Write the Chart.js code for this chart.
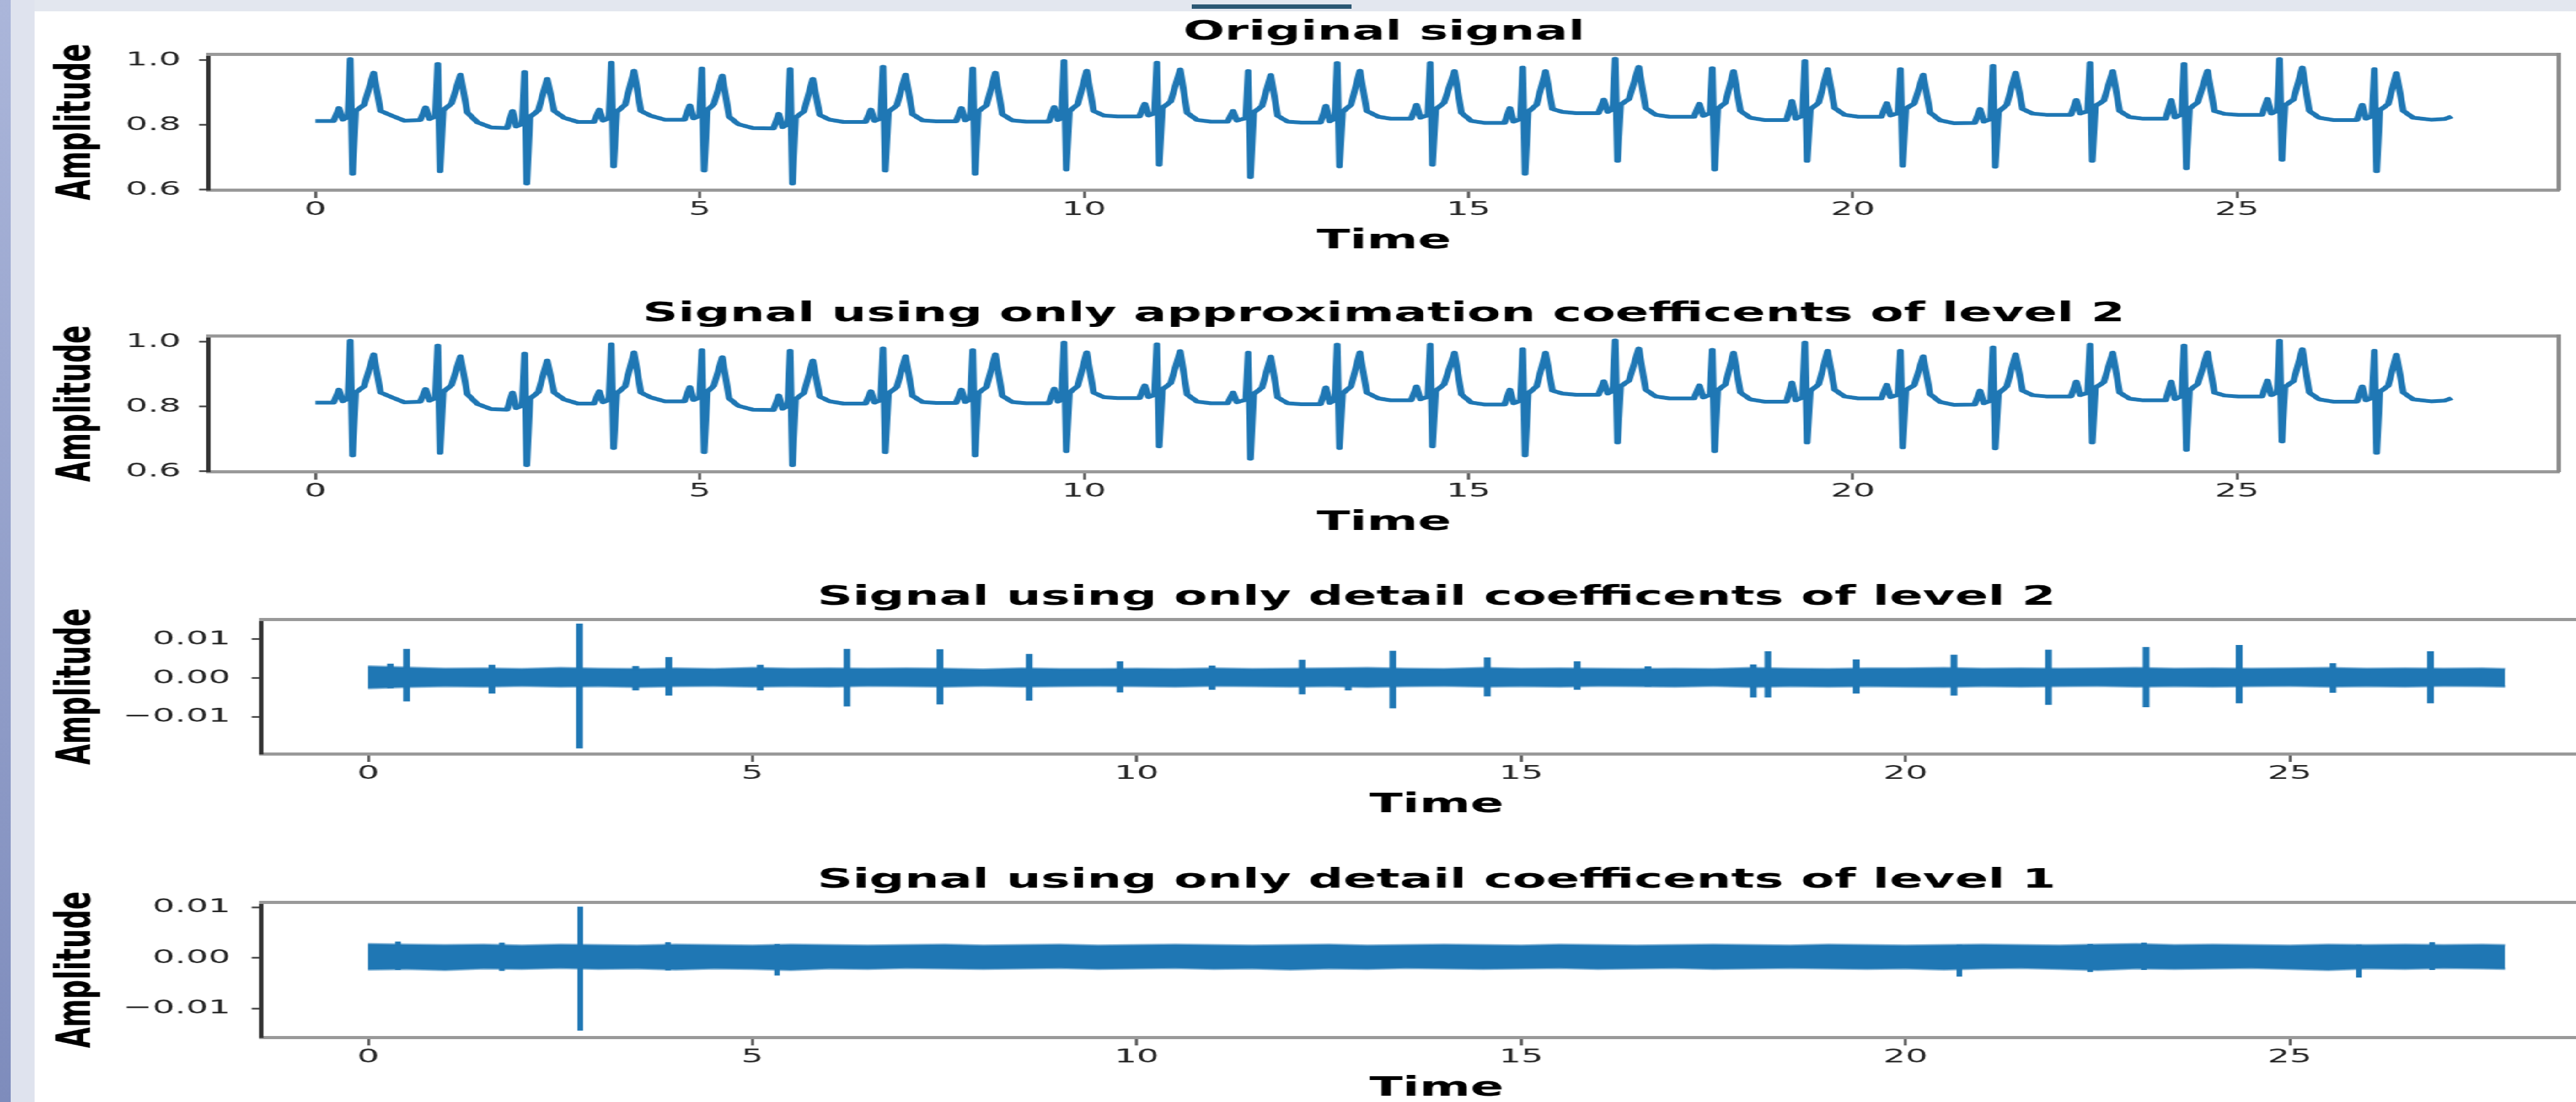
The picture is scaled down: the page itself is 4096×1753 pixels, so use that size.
<!DOCTYPE html>
<html>
<head>
<meta charset="utf-8">
<title>Wavelet decomposition of an ECG signal</title>
<script src="https://cdn.jsdelivr.net/npm/chart.js@4.4.1/dist/chart.umd.min.js"></script>
<style>
  html, body { margin: 0; padding: 0; width: 4096px; height: 1753px; overflow: hidden; background: #fff; }
  #bandTop { position: absolute; left: 0; top: 0; width: 4096px; height: 18px; background: #e3e7ef; }
  #bandLeft { position: absolute; left: 0; top: 0; width: 55px; height: 1753px; background: #dfe3ee; }
  #stripLeft { position: absolute; left: 0; top: 0; width: 17px; height: 1753px; background: linear-gradient(#abb6da, #7e8cbc); }
  #tab { position: absolute; left: 1895px; top: 7px; width: 254px; height: 7px; background: #2b5773; }
  /* the source picture is stretched sideways, so the whole stage is too */
  #stage { position: absolute; left: 0; top: 0; width: 2330px; height: 1760px; transform: scaleX(1.79); transform-origin: 0 0; }
  #stage canvas { position: absolute; left: 0; }
</style>
</head>
<body>
<div id="bandTop"></div><div id="bandLeft"></div><div id="stripLeft"></div><div id="tab"></div>
<div id="stage">
  <canvas id="original" width="2330" height="384" style="top:26px"></canvas>
  <canvas id="approx" width="2330" height="384" style="top:474px"></canvas>
  <canvas id="detail2" width="2330" height="382" style="top:925px"></canvas>
  <canvas id="detail1" width="2330" height="383" style="top:1375px"></canvas>
</div>
<script>
// ECG trace, read beat by beat off the top panel (time in s, amplitude)
const ecgTime = [
  0.000,
  0.236, 0.306, 0.356, 0.423, 0.453, 0.483, 0.523, 0.633, 0.757, 0.847, 0.977, 1.157,
  1.364, 1.434, 1.484, 1.561, 1.591, 1.621, 1.661, 1.771, 1.886, 1.976, 2.106, 2.286,
  2.493, 2.563, 2.613, 2.690, 2.720, 2.750, 2.790, 2.900, 3.015, 3.105, 3.235, 3.415,
  3.622, 3.692, 3.742, 3.819, 3.849, 3.879, 3.919, 4.029, 4.144, 4.234, 4.364, 4.544,
  4.800, 4.870, 4.920, 4.997, 5.027, 5.057, 5.097, 5.182, 5.292, 5.382, 5.502, 5.692,
  5.958, 6.028, 6.078, 6.145, 6.175, 6.205, 6.245, 6.355, 6.470, 6.560, 6.690, 6.870,
  7.156, 7.226, 7.276, 7.353, 7.383, 7.413, 7.453, 7.563, 7.677, 7.767, 7.897, 8.077,
  8.334, 8.404, 8.454, 8.521, 8.551, 8.581, 8.621, 8.731, 8.845, 8.935, 9.065, 9.245,
  9.541, 9.611, 9.661, 9.708, 9.738, 9.768, 9.808, 9.918, 10.033, 10.123, 10.253, 10.433,
  10.719, 10.789, 10.839, 10.916, 10.946, 10.976, 11.016, 11.126, 11.250, 11.340, 11.470, 11.650,
  11.867, 11.937, 11.987, 12.104, 12.134, 12.164, 12.204, 12.314, 12.428, 12.518, 12.648, 12.828,
  13.075, 13.145, 13.195, 13.262, 13.292, 13.322, 13.362, 13.472, 13.587, 13.677, 13.830, 13.990,
  14.254, 14.324, 14.374, 14.472, 14.502, 14.532, 14.572, 14.682, 14.818, 14.908, 15.038, 15.218,
  15.468, 15.538, 15.588, 15.676, 15.706, 15.736, 15.776, 15.886, 16.002, 16.092, 16.222, 16.402,
  16.691, 16.761, 16.811, 16.879, 16.909, 16.939, 16.979, 17.089, 17.215, 17.305, 17.435, 17.615,
  17.934, 18.004, 18.054, 18.142, 18.172, 18.202, 18.242, 18.342, 18.448, 18.538, 18.668, 18.848,
  19.138, 19.208, 19.258, 19.346, 19.376, 19.406, 19.446, 19.556, 19.672, 19.762, 19.892, 20.072,
  20.371, 20.441, 20.491, 20.589, 20.619, 20.649, 20.689, 20.799, 20.915, 21.005, 21.135, 21.315,
  21.585, 21.655, 21.705, 21.793, 21.823, 21.853, 21.893, 22.003, 22.118, 22.208, 22.338, 22.518,
  22.838, 22.908, 22.958, 23.055, 23.085, 23.115, 23.155, 23.265, 23.381, 23.471, 23.601, 23.781,
  24.071, 24.141, 24.191, 24.279, 24.309, 24.339, 24.379, 24.489, 24.614, 24.704, 24.834, 25.014,
  25.324, 25.394, 25.444, 25.522, 25.552, 25.582, 25.622, 25.732, 25.848, 25.938, 26.068, 26.248,
  26.557, 26.627, 26.677, 26.755, 26.785, 26.815, 26.855, 26.965, 27.071, 27.161, 27.291, 27.520, 27.700, 27.792
];
const ecgAmp = [
  0.812,
  0.812, 0.852, 0.816, 0.824, 1.003, 0.649, 0.843, 0.862, 0.961, 0.843, 0.830, 0.813,
  0.815, 0.854, 0.818, 0.826, 0.988, 0.657, 0.845, 0.866, 0.955, 0.838, 0.808, 0.792,
  0.790, 0.843, 0.795, 0.803, 0.963, 0.619, 0.824, 0.845, 0.942, 0.843, 0.822, 0.809,
  0.809, 0.847, 0.813, 0.821, 0.992, 0.672, 0.840, 0.862, 0.967, 0.843, 0.828, 0.816,
  0.816, 0.860, 0.820, 0.828, 0.974, 0.659, 0.845, 0.864, 0.952, 0.825, 0.802, 0.790,
  0.789, 0.834, 0.793, 0.802, 0.972, 0.619, 0.822, 0.842, 0.942, 0.831, 0.816, 0.809,
  0.809, 0.847, 0.812, 0.820, 0.979, 0.659, 0.840, 0.860, 0.955, 0.833, 0.814, 0.811,
  0.811, 0.852, 0.814, 0.822, 0.974, 0.649, 0.841, 0.861, 0.961, 0.833, 0.814, 0.810,
  0.810, 0.855, 0.815, 0.823, 0.997, 0.662, 0.842, 0.864, 0.967, 0.843, 0.829, 0.826,
  0.826, 0.865, 0.829, 0.836, 0.992, 0.677, 0.852, 0.872, 0.971, 0.837, 0.815, 0.810,
  0.810, 0.843, 0.813, 0.821, 0.966, 0.639, 0.838, 0.858, 0.954, 0.828, 0.810, 0.807,
  0.807, 0.859, 0.811, 0.819, 0.991, 0.672, 0.840, 0.862, 0.967, 0.843, 0.825, 0.819,
  0.819, 0.862, 0.822, 0.830, 0.991, 0.677, 0.848, 0.868, 0.966, 0.837, 0.812, 0.806,
  0.806, 0.852, 0.810, 0.818, 0.977, 0.649, 0.840, 0.862, 0.966, 0.849, 0.840, 0.836,
  0.836, 0.878, 0.840, 0.848, 1.004, 0.689, 0.862, 0.880, 0.979, 0.852, 0.831, 0.825,
  0.825, 0.865, 0.828, 0.836, 0.975, 0.662, 0.850, 0.868, 0.966, 0.843, 0.822, 0.815,
  0.815, 0.874, 0.819, 0.828, 0.997, 0.689, 0.848, 0.868, 0.972, 0.852, 0.831, 0.825,
  0.825, 0.867, 0.829, 0.836, 0.972, 0.674, 0.850, 0.866, 0.955, 0.838, 0.814, 0.805,
  0.806, 0.849, 0.810, 0.818, 0.982, 0.671, 0.840, 0.862, 0.961, 0.849, 0.835, 0.831,
  0.831, 0.877, 0.835, 0.842, 0.991, 0.689, 0.858, 0.875, 0.966, 0.843, 0.824, 0.819,
  0.819, 0.877, 0.823, 0.832, 0.988, 0.666, 0.850, 0.870, 0.967, 0.843, 0.834, 0.831,
  0.831, 0.880, 0.835, 0.843, 1.003, 0.692, 0.860, 0.878, 0.977, 0.843, 0.822, 0.815,
  0.815, 0.862, 0.819, 0.827, 0.972, 0.657, 0.845, 0.864, 0.960, 0.843, 0.822, 0.816, 0.818, 0.826
];
// the level-2 approximation cannot be told apart from the original at this size
const approxTime = ecgTime;
const approxAmp = ecgAmp;

// detail bands: upper and lower edge of the dense noise, every 0.5 s
const detailTime = [0, 0.5, 1, 1.5, 2, 2.5, 3, 3.5, 4, 4.5, 5, 5.5, 6, 6.5, 7, 7.5, 8, 8.5, 9, 9.5,
  10, 10.5, 11, 11.5, 12, 12.5, 13, 13.5, 14, 14.5, 15, 15.5, 16, 16.5, 17, 17.5, 18, 18.5, 19, 19.5,
  20, 20.5, 21, 21.5, 22, 22.5, 23, 23.5, 24, 24.5, 25, 25.5, 26, 26.5, 27, 27.5, 27.8];
const d2Upper = [0.0030, 0.0027, 0.0024, 0.0025, 0.0023, 0.0026, 0.0024, 0.0023, 0.0025, 0.0023,
  0.0026, 0.0024, 0.0025, 0.0024, 0.0025, 0.0024, 0.0022, 0.0025, 0.0023, 0.0023,
  0.0024, 0.0023, 0.0025, 0.0023, 0.0024, 0.0025, 0.0026, 0.0024, 0.0023, 0.0026,
  0.0024, 0.0025, 0.0024, 0.0023, 0.0024, 0.0023, 0.0026, 0.0024, 0.0023, 0.0025,
  0.0025, 0.0026, 0.0024, 0.0025, 0.0024, 0.0025, 0.0026, 0.0024, 0.0025, 0.0024,
  0.0025, 0.0026, 0.0024, 0.0025, 0.0024, 0.0025, 0.0023];
const d2Lower = [-0.0026, -0.0023, -0.0021, -0.0022, -0.0020, -0.0022, -0.0021, -0.0023, -0.0021, -0.0020,
  -0.0022, -0.0021, -0.0022, -0.0020, -0.0021, -0.0022, -0.0020, -0.0022, -0.0021, -0.0020,
  -0.0021, -0.0022, -0.0020, -0.0021, -0.0022, -0.0021, -0.0023, -0.0021, -0.0020, -0.0022,
  -0.0021, -0.0022, -0.0020, -0.0021, -0.0022, -0.0020, -0.0023, -0.0021, -0.0022, -0.0021,
  -0.0022, -0.0023, -0.0021, -0.0022, -0.0021, -0.0020, -0.0022, -0.0021, -0.0022, -0.0021,
  -0.0020, -0.0022, -0.0021, -0.0022, -0.0020, -0.0021, -0.0022];
const d1Upper = [0.0027, 0.0026, 0.0025, 0.0026, 0.0024, 0.0026, 0.0025, 0.0024, 0.0026, 0.0025,
  0.0024, 0.0026, 0.0025, 0.0024, 0.0025, 0.0026, 0.0024, 0.0025, 0.0026, 0.0024,
  0.0025, 0.0026, 0.0025, 0.0024, 0.0025, 0.0026, 0.0024, 0.0025, 0.0026, 0.0025,
  0.0024, 0.0026, 0.0025, 0.0024, 0.0025, 0.0026, 0.0025, 0.0024, 0.0026, 0.0025,
  0.0024, 0.0025, 0.0026, 0.0025, 0.0024, 0.0026, 0.0027, 0.0025, 0.0026, 0.0025,
  0.0024, 0.0026, 0.0025, 0.0026, 0.0025, 0.0026, 0.0025];
const d1Lower = [-0.0023, -0.0022, -0.0024, -0.0021, -0.0022, -0.0020, -0.0022, -0.0021, -0.0023, -0.0021,
  -0.0022, -0.0024, -0.0021, -0.0022, -0.0020, -0.0021, -0.0022, -0.0021, -0.0020, -0.0022,
  -0.0021, -0.0020, -0.0022, -0.0021, -0.0023, -0.0021, -0.0022, -0.0020, -0.0021, -0.0022,
  -0.0021, -0.0020, -0.0022, -0.0021, -0.0020, -0.0022, -0.0021, -0.0020, -0.0021, -0.0022,
  -0.0021, -0.0023, -0.0021, -0.0020, -0.0022, -0.0024, -0.0021, -0.0022, -0.0021, -0.0020,
  -0.0022, -0.0024, -0.0021, -0.0022, -0.0020, -0.0021, -0.0022];

// bursts sticking out of the bands: time, top, bottom
const d2SpikeTime = [0.29, 0.50, 1.61, 2.75, 3.48, 3.91, 5.10, 6.23, 7.44, 8.60, 9.78, 10.98, 12.15, 12.75,
  13.33, 14.56, 15.73, 16.65, 18.02, 18.21, 19.36, 20.63, 21.86, 23.13, 24.34, 25.56, 26.83];
const d2SpikeHigh = [0.0037, 0.0075, 0.0034, 0.0140, 0.0031, 0.0054, 0.0034, 0.0075, 0.0074, 0.0062, 0.0043, 0.0032, 0.0047, 0.0021,
  0.0070, 0.0053, 0.0043, 0.0030, 0.0035, 0.0069, 0.0048, 0.0060, 0.0073, 0.0080, 0.0085, 0.0038, 0.0069];
const d2SpikeLow = [-0.0026, -0.0060, -0.0040, -0.0181, -0.0032, -0.0045, -0.0032, -0.0073, -0.0068, -0.0058, -0.0037, -0.0030, -0.0042, -0.0032,
  -0.0078, -0.0047, -0.0030, -0.0022, -0.0050, -0.0050, -0.0040, -0.0045, -0.0069, -0.0075, -0.0065, -0.0038, -0.0065];
const d1SpikeTime = [0.39, 1.74, 2.76, 3.90, 5.32, 20.70, 22.40, 23.10, 25.90, 26.85];
const d1SpikeHigh = [0.0032, 0.0030, 0.0101, 0.0031, 0.0027, 0.0026, 0.0027, 0.0030, 0.0026, 0.0031];
const d1SpikeLow = [-0.0024, -0.0026, -0.0144, -0.0025, -0.0035, -0.0037, -0.0028, -0.0024, -0.0039, -0.0024];

const titles = [
  "Original signal",
  "Signal using only approximation coefficents of level 2",
  "Signal using only detail coefficents of level 2",
  "Signal using only detail coefficents of level 1"
];

const blue = "#1f77b4";
const blueSoft = "rgba(31, 119, 180, 0.55)";
Chart.defaults.font.family = "'DejaVu Sans', sans-serif";

function toPoints(xs, ys) {
  return xs.map((x, i) => ({ x: x, y: ys[i] }));
}

function spikePoints(ts, hi, lo) {
  const pts = [];
  for (let i = 0; i < ts.length; i++) {
    pts.push({ x: ts[i], y: hi[i] }, { x: ts[i], y: lo[i] }, { x: ts[i], y: null });
  }
  return pts;
}

function signed(v, d) {
  const s = Math.abs(v).toFixed(d);
  return v < -1e-12 ? "\u2212" + s : s;
}

function traceSet(xs, ys) {
  return {
    data: toPoints(xs, ys), xAxisID: "x", yAxisID: "y",
    borderColor: blue, borderWidth: 6, borderJoinStyle: "round",
    pointRadius: 0, fill: false, tension: 0
  };
}

function bandSets(upper, lower, st, sh, sl, spikeWidth) {
  return [
    { data: toPoints(detailTime, upper), xAxisID: "x", yAxisID: "y", borderColor: blueSoft, backgroundColor: blue,
      borderWidth: 4, pointRadius: 0, fill: "+1", tension: 0 },
    { data: toPoints(detailTime, lower), xAxisID: "x", yAxisID: "y", borderColor: blueSoft,
      borderWidth: 4, pointRadius: 0, fill: false, tension: 0 },
    { data: spikePoints(st, sh, sl), xAxisID: "x", yAxisID: "y", borderColor: blue, borderWidth: spikeWidth,
      borderCapStyle: "butt", pointRadius: 0, fill: false, spanGaps: false }
  ];
}

function dibujarPanel(id, title, datasets, p) {
  const scales = {
    x: {
      type: "linear", position: "bottom", min: -1.39, max: 29.19,
      ticks: { stepSize: 5, includeBounds: false, autoSkip: false, maxRotation: 0, color: "#262626",
               padding: 0.5, font: { size: 31, lineHeight: "37px" } },
      grid: { drawOnChartArea: false, drawTicks: true, tickLength: 13, tickWidth: 2.5, tickColor: "#555" },
      border: { display: true, color: "#999", width: 5 },
      title: { display: true, text: "Time", color: "#000", padding: { top: 0, bottom: 0 },
               font: { size: 43.5, weight: "bold", lineHeight: "52px" } },
      afterFit: s => { s.height = 108; }
    },
    y: {
      type: "linear", position: "left", min: p.yMin, max: p.yMax,
      ticks: { stepSize: p.step, includeBounds: false, color: "#262626", padding: p.tickPad,
               font: { size: 31, lineHeight: "37px" }, callback: v => signed(v, p.decimals) },
      grid: { drawOnChartArea: false, drawTicks: true, tickLength: 8.5, tickWidth: 3, tickColor: "#555" },
      border: { display: true, color: "#333", width: 4 },
      title: { display: true, text: "Amplitude", color: "#000", padding: { top: 42.7, bottom: 0 },
               font: { size: 43, weight: "bold", lineHeight: "52px" } },
      afterFit: s => { s.width = p.left; }
    },
    xTop: {
      type: "linear", position: "top", display: true,
      ticks: { display: false }, grid: { display: false, drawTicks: false },
      border: { display: true, color: "#999", width: 5 },
      afterFit: s => { s.height = 0; }
    }
  };
  if (p.rightSpine) {
    scales.yRight = {
      type: "linear", position: "right", display: true,
      ticks: { display: false }, grid: { display: false, drawTicks: false },
      border: { display: true, color: "#8c8c8c", width: 4 },
      afterFit: s => { s.width = 0; }
    };
  }
  new Chart(document.getElementById(id), {
    type: "line",
    data: { datasets: datasets },
    options: {
      responsive: false, animation: false, devicePixelRatio: 1, normalized: true,
      layout: { padding: { left: 0, top: 0, right: p.padRight, bottom: 0 } },
      plugins: {
        legend: { display: false },
        tooltip: { enabled: false },
        title: { display: true, text: title, fullSize: false, color: "#000",
                 padding: { top: 0, bottom: 8 },
                 font: { size: 43.5, weight: "bold", lineHeight: "52px" } }
      },
      scales: scales
    }
  });
}

const topPanels = { yMin: 0.5995, yMax: 1.0185, step: 0.2, decimals: 1, tickPad: 16,
                    left: 185.3, padRight: 56.6, rightSpine: true };

dibujarPanel("original", titles[0], [traceSet(ecgTime, ecgAmp)], topPanels);
dibujarPanel("approx", titles[1], [traceSet(approxTime, approxAmp)], topPanels);
dibujarPanel("detail2", titles[2], bandSets(d2Upper, d2Lower, d2SpikeTime, d2SpikeHigh, d2SpikeLow, 6),
  { yMin: -0.01948, yMax: 0.01514, step: 0.01, decimals: 2, tickPad: 19, left: 232.1, padRight: 9.8, rightSpine: false });
dibujarPanel("detail1", titles[3], bandSets(d1Upper, d1Lower, d1SpikeTime, d1SpikeHigh, d1SpikeLow, 5),
  { yMin: -0.01569, yMax: 0.0110, step: 0.01, decimals: 2, tickPad: 19, left: 232.1, padRight: 9.8, rightSpine: false });
</script>
</body>
</html>
